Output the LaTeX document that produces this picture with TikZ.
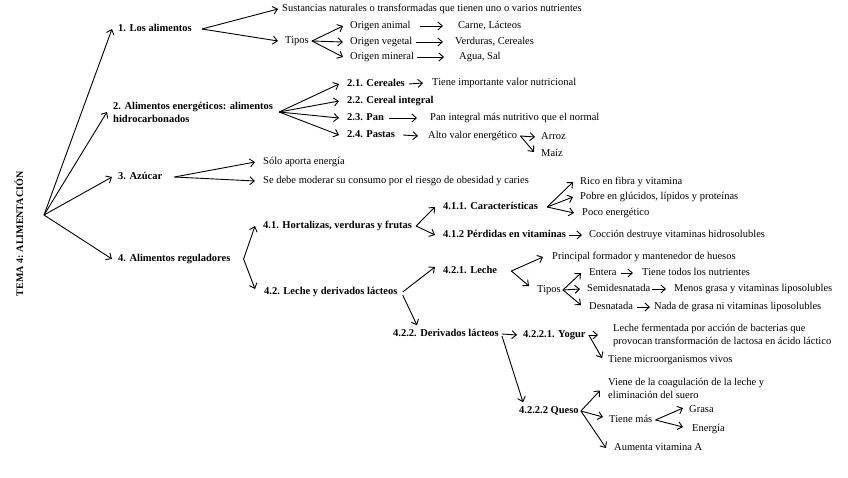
\documentclass[tikz,border=0pt]{standalone}
\usepackage{fontspec}
\setmainfont{Liberation Serif}
\usetikzlibrary{arrows.meta}
\tikzset{
  txt/.style={font=\fontsize{10.5}{13}\selectfont, inner sep=0pt, anchor=west, text height=7pt, text depth=2pt},
  btxt/.style={txt, font=\fontsize{10.5}{13}\selectfont\bfseries},
  mtxt/.style={font=\fontsize{10.5}{13}\selectfont, inner sep=0pt, anchor=west, align=left},
  mbtxt/.style={mtxt, font=\fontsize{10.5}{13}\selectfont\bfseries},
  arr/.style={-{Straight Barb[length=4.5pt,width=8pt]}, line width=0.9pt},
}
\begin{document}
\begin{tikzpicture}[x=1pt,y=-1pt]
\fill[white] (0,0) rectangle (848,477);
\useasboundingbox (0,0) rectangle (848,477);

% title and root
\node[font=\fontsize{10}{12}\selectfont\bfseries, rotate=90, inner sep=0pt] (title) at (19,234) {TEMA 4: ALIMENTACIÓN};
\coordinate (root) at (44,215);

% level 1
\node[btxt] (n1) at (118,29) {1. Los alimentos};
\node[mbtxt] (n2) at (113,112) {2. Alimentos energéticos: alimentos\\hidrocarbonados};
\node[btxt] (n3) at (118,177) {3. Azúcar};
\node[btxt] (n4) at (118,259) {4. Alimentos reguladores};
\foreach \n in {n1,n2,n3,n4} \draw[arr] (root) -- ([xshift=-6pt]\n.west);

% 1
\node[txt] (s1) at (282,9) {Sustancias naturales o transformadas que tienen uno o varios nutrientes};
\node[txt] (t1) at (285,41) {Tipos};
\coordinate (f1) at ([xshift=10pt]n1.east);
\draw[arr] (f1) -- ([xshift=-4pt]s1.west);
\draw[arr] (f1) -- ([xshift=-7pt]t1.west);
\node[txt] (oa) at (350,26) {Origen animal};
\node[txt] (ov) at (350,42) {Origen vegetal};
\node[txt] (om) at (350,57) {Origen mineral};
\coordinate (ft1) at ([xshift=3pt]t1.east);
\foreach \n in {oa,ov,om} \draw[arr] (ft1) -- ([xshift=-7pt]\n.west);
\node[txt] (ca) at (458,26) {Carne, Lácteos};
\node[txt] (cv) at (455,42) {Verduras, Cereales};
\node[txt] (cm) at (459,57) {Agua, Sal};
\draw[arr] ([xshift=9pt]oa.east) -- ([xshift=-15pt]ca.west);
\draw[arr] ([xshift=3pt]ov.east) -- ([xshift=-12pt]cv.west);
\draw[arr] ([xshift=3pt]om.east) -- ([xshift=-15pt]cm.west);

% 2
\node[btxt] (c21) at (347,84) {2.1. Cereales};
\node[btxt] (c22) at (347,101) {2.2. Cereal integral};
\node[btxt] (c23) at (347,118) {2.3. Pan};
\node[btxt] (c24) at (347,135) {2.4. Pastas};
\coordinate (f2) at ([xshift=6pt]n2.east);
\foreach \n in {c21,c22,c23,c24} \draw[arr] (f2) -- ([xshift=-8pt]\n.west);
\node[txt] (tiv) at (432,83) {Tiene importante valor nutricional};
\node[txt] (pin) at (430,118) {Pan integral más nutritivo que el normal};
\node[txt] (alt) at (428,136) {Alto valor energético};
\draw[arr] ([xshift=4pt]c21.east) -- ([xshift=-9pt]tiv.west);
\draw[arr] ([xshift=5pt]c23.east) -- ([xshift=-13pt]pin.west);
\draw[arr] ([xshift=8pt]c24.east) -- ([xshift=-10pt]alt.west);
\node[txt] (arroz) at (541,137) {Arroz};
\node[txt] (maiz) at (541,154) {Maíz};
\coordinate (fa) at ([xshift=3pt]alt.east);
\draw[arr] (fa) -- ([xshift=-6pt]arroz.west);
\draw[arr] (fa) -- ([xshift=-7pt,yshift=2pt]maiz.west);

% 3
\node[txt] (sol) at (263,162) {Sólo aporta energía};
\node[txt] (sed) at (263,181) {Se debe moderar su consumo por el riesgo de obesidad y caries};
\coordinate (f3) at ([xshift=12pt]n3.east);
\draw[arr] (f3) -- ([xshift=-8pt]sol.west);
\draw[arr] (f3) -- ([xshift=-8pt]sed.west);

% 4
\node[btxt] (h41) at (263,226) {4.1. Hortalizas, verduras y frutas};
\node[btxt] (h42) at (264,292) {4.2. Leche y derivados lácteos};
\coordinate (f4) at ([xshift=13pt]n4.east);
\draw[arr] (f4) -- ([xshift=-8pt]h41.west);
\draw[arr] (f4) -- ([xshift=-9pt,yshift=3pt]h42.west);

% 4.1
\node[btxt] (c411) at (443,207) {4.1.1. Características};
\node[btxt] (c412) at (443,235) {4.1.2 Pérdidas en vitaminas};
\coordinate (f41) at ([xshift=4pt]h41.east);
\draw[arr] (f41) -- ([xshift=-8pt]c411.west);
\draw[arr] (f41) -- ([xshift=-8pt]c412.west);
\node[txt] (rico) at (580,182) {Rico en fibra y vitamina};
\node[txt] (pobre) at (580,197) {Pobre en glúcidos, lípidos y proteínas};
\node[txt] (poco) at (582,213) {Poco energético};
\coordinate (f411) at ([xshift=9pt]c411.east);
\draw[arr] (f411) -- ([xshift=-7pt]rico.west);
\draw[arr] (f411) -- ([xshift=-7pt]pobre.west);
\draw[arr] (f411) -- ([xshift=-8pt]poco.west);
\node[txt] (coc) at (589,235) {Cocción destruye vitaminas hidrosolubles};
\draw[arr] ([xshift=3pt]c412.east) -- ([xshift=-7pt]coc.west);

% 4.2
\node[btxt] (c421) at (443,271) {4.2.1. Leche};
\node[btxt] (c422) at (393,334) {4.2.2. Derivados lácteos};
\coordinate (f42) at ([xshift=5pt]h42.east);
\draw[arr] (f42) -- ([xshift=-8pt,yshift=4pt]c421.west);
\draw[arr] ([yshift=-3pt]f42) -- ([xshift=24pt,yshift=4pt]c422.north west);

% 4.2.1
\node[txt] (pri) at (552,257) {Principal formador y mantenedor de huesos};
\node[txt] (tp2) at (537,290) {Tipos};
\coordinate (f421) at ([xshift=14pt]c421.east);
\draw[arr] (f421) -- ([xshift=-9pt]pri.west);
\draw[arr] (f421) -- ([xshift=-8pt,yshift=4pt]tp2.west);
\node[txt] (ent) at (589,273) {Entera};
\node[txt] (semi) at (587,289) {Semidesnatada};
\node[txt] (desn) at (589,307) {Desnatada};
\coordinate (ft2) at ([xshift=2pt]tp2.east);
\draw[arr] (ft2) -- ([xshift=-8pt]ent.west);
\draw[arr] (ft2) -- ([xshift=-7pt]semi.west);
\draw[arr] (ft2) -- ([xshift=-8pt,yshift=2pt]desn.west);
\node[txt] (ttn) at (642,273) {Tiene todos los nutrientes};
\node[txt] (menos) at (674,289) {Menos grasa y vitaminas liposolubles};
\node[txt] (nada) at (654,307) {Nada de grasa ni vitaminas liposolubles};
\draw[arr] ([xshift=4pt]ent.east) -- ([xshift=-9pt]ttn.west);
\draw[arr] ([xshift=2pt]semi.east) -- ([xshift=-8pt]menos.west);
\draw[arr] ([xshift=4pt]desn.east) -- ([xshift=-4pt]nada.west);

% 4.2.2
\node[btxt] (yog) at (523,335) {4.2.2.1. Yogur};
\node[btxt] (queso) at (519,411) {4.2.2.2 Queso};
\coordinate (f422) at ([xshift=3pt]c422.east);
\draw[arr] (f422) -- ([xshift=-6pt]yog.west);
\draw[arr] ([yshift=-2pt]f422) -- ([xshift=4pt,yshift=4pt]queso.north west);
\node[mtxt] (lf) at (613,335) {Leche fermentada por acción de bacterias que\\provocan transformación de lactosa en ácido láctico};
\node[txt] (tmv) at (608,360) {Tiene microorganismos vivos};
\coordinate (fy) at ([xshift=3pt]yog.east);
\draw[arr] (fy) -- ([xshift=-15pt]lf.west);
\draw[arr] (fy) -- ([xshift=-6pt,yshift=2pt]tmv.west);
\node[mtxt] (viene) at (608,388.5) {Viene de la coagulación de la leche y\\eliminación del suero};
\node[txt] (tmas) at (609,420) {Tiene más};
\node[txt] (aum) at (614,448) {Aumenta vitamina A};
\coordinate (fq) at ([xshift=2pt]queso.east);
\draw[arr] (fq) -- ([xshift=-8pt,yshift=-2pt]viene.west);
\draw[arr] (fq) -- ([xshift=-6pt,yshift=3pt]tmas.west);
\draw[arr] (fq) -- ([xshift=-8pt]aum.west);
\node[txt] (grasa) at (689,410) {Grasa};
\node[txt] (energia) at (692,429) {Energía};
\coordinate (ft3) at ([xshift=3pt]tmas.east);
\draw[arr] (ft3) -- ([xshift=-6pt,yshift=2pt]grasa.west);
\draw[arr] (ft3) -- ([xshift=-9pt,yshift=2pt]energia.west);
\end{tikzpicture}
\end{document}
